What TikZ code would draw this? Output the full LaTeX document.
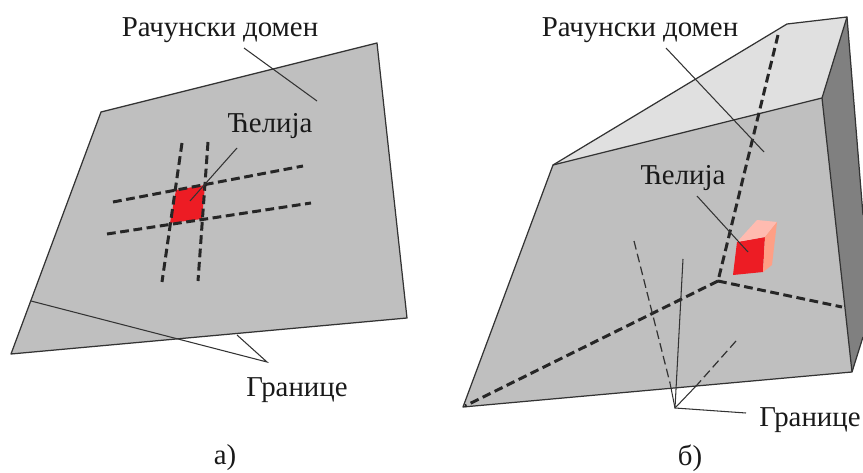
\documentclass[tikz,border=0pt]{standalone}
\usepackage{fontspec}
\setmainfont{Liberation Serif}
\usepackage{tikz}
\definecolor{cellred}{HTML}{ED1C24}
\definecolor{celltop}{HTML}{FFBBB0}
\definecolor{cellside}{HTML}{FF9F85}

\begin{document}
\begin{tikzpicture}[x=0.02cm,y=-0.02cm,
    face/.style={draw=black!80,line width=0.7pt,line join=round},
    cut/.style={draw=black!85,line width=1.7pt,dash pattern=on 5pt off 2.6pt},
    thincut/.style={draw=black!80,line width=0.7pt,dash pattern=on 5pt off 2.5pt},
    leader/.style={draw=black!80,line width=0.6pt},
    caption/.style={inner sep=0pt,font=\fontsize{16.4}{19}\selectfont,text=black!90}]

\useasboundingbox (0,0) rectangle (863,473);

% a)
\fill[black!25] (101,112) -- (377,43) -- (407,318) -- (11,354) -- cycle;
\draw[face] (101,112) -- (377,43) -- (407,318) -- (11,354) -- cycle;
\fill[cellred] (176,190) -- (205,185) -- (202,219) -- (170,223) -- cycle;

\draw[cut] (182,143) -- (162,282);
\draw[cut] (208,142) -- (198,281);
\draw[cut] (113,202) -- (303,166);
\draw[cut] (107,234) -- (311,203);

\node[caption] (domenA) at (220,30) {Рачунски домен};
\node[caption] (celijaA) at (270,126) {Ћелија};
\node[caption] (graniceA) at (297,390) {Границе};
\node[caption] (capA) at (225,458) {а)};

\coordinate (d1) at (244,48);
\coordinate (d2) at (317,101);
\coordinate (c1) at (237,148);
\coordinate (c2) at (190,201);
\coordinate (g0) at (267,362);
\coordinate (g1) at (31,301);
\coordinate (g2) at (237,335);

\draw[leader] (d1) -- (d2);
\draw[leader] (c1) -- (c2);
\draw[leader] (g1) -- (g0) -- (g2);

% b)
\fill[black!12] (553,165) -- (787,24) -- (847,17) -- (822,98) -- cycle;
\fill[black!50] (847,17) -- (863,215) -- (863,337) -- (852,372) -- (822,98) -- cycle;
\fill[black!25] (553,165) -- (822,98) -- (852,372) -- (463,407) -- cycle;
\draw[face] (553,165) -- (787,24) -- (847,17) -- (863,215);
\draw[face] (863,337) -- (852,372) -- (463,407) -- (553,165) -- (822,98) -- (847,17);
\draw[face] (822,98) -- (852,372);

\fill[cellred] (737,242) -- (765,237) -- (763,272) -- (733,275) -- cycle;
\fill[celltop] (737,242) -- (757,220) -- (777,222) -- (765,237) -- cycle;
\fill[cellside] (765,237) -- (777,222) -- (772,265) -- (763,272) -- cycle;

\coordinate (o) at (718,281);
\draw[cut] (778,35) -- (o);
\draw[cut] (o) -- (842,307);
\draw[cut] (o) -- (465,406);

\node[caption] (domenB) at (640,30) {Рачунски домен};
\node[caption] (celijaB) at (683,178) {Ћелија};
\node[caption] (graniceB) at (810,420) {Границе};
\node[caption] (capB) at (690,458) {б)};

\coordinate (e1) at (666,48);
\coordinate (e2) at (764,152);
\coordinate (f1) at (697,196);
\coordinate (f2) at (748,252);
\coordinate (h0) at (675,408);
\coordinate (h1) at (683,259);
\coordinate (h2) at (746,413);
\coordinate (h3) at (634,241);
\coordinate (h4) at (670,383);
\coordinate (h5) at (736,341);
\coordinate (h6) at (697,385);

\draw[leader] (e1) -- (e2);
\draw[leader] (f1) -- (f2);
\draw[leader] (h1) -- (h0) -- (h2);
\draw[thincut] (h3) -- (h4);
\draw[leader] (h4) -- (h0);
\draw[thincut] (h5) -- (h6);
\draw[leader] (h6) -- (h0);
\end{tikzpicture}
\end{document}
